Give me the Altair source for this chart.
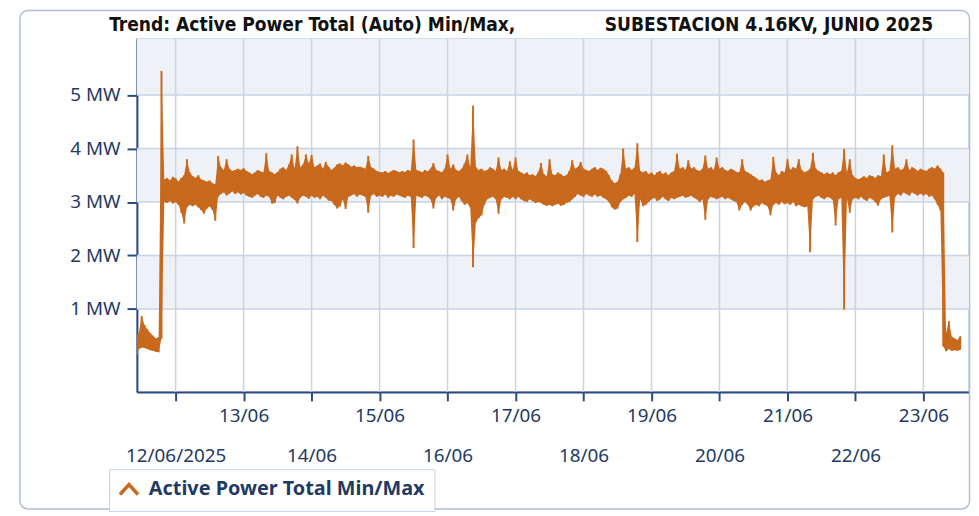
import altair as alt
import pandas as pd

# ---------------- data ----------------
SERIES = "Active Power Total Min/Max"
START = "2025-06-11T10:00:00"          # first hourly sample
X_DOMAIN = ["2025-06-11T10:20:00", "2025-06-23T16:06:00"]
Y_DOMAIN = [-0.55, 6.05]

# hourly maximum (MW)
P_MAX = [
    0.50, 0.55, 0.87, 0.70, 0.62, 0.55, 0.50, 0.45, 0.47, 5.45,
    3.42, 3.45, 3.40, 3.47, 3.44, 3.38, 3.45, 3.50, 3.80, 3.55,
    3.48, 3.45, 3.50, 3.42, 3.40, 3.38, 3.40, 3.35, 3.33, 3.86,
    3.65, 3.60, 3.80, 3.62, 3.58, 3.60, 3.62, 3.60, 3.63, 3.58,
    3.55, 3.52, 3.55, 3.60, 3.57, 3.55, 3.91, 3.58, 3.55, 3.52,
    3.56, 3.62, 3.65, 3.60, 3.70, 3.89, 3.62, 4.04, 3.65, 3.70,
    3.89, 3.72, 3.88, 3.65, 3.68, 3.72, 3.62, 3.75, 3.66, 3.60,
    3.64, 3.70, 3.72, 3.68, 3.74, 3.70, 3.66, 3.68, 3.65, 3.66,
    3.64, 3.62, 3.86, 3.65, 3.62, 3.58, 3.56, 3.55, 3.58, 3.54,
    3.57, 3.60, 3.58, 3.55, 3.58, 3.56, 3.60, 3.58, 4.17, 3.60,
    3.58, 3.55, 3.60, 3.57, 3.62, 3.73, 3.60, 3.58, 3.55, 3.62,
    3.89, 3.62, 3.70, 3.60, 3.58, 3.62, 3.72, 3.89, 3.65, 4.80,
    3.65, 3.60, 3.62, 3.58, 3.60, 3.65, 3.62, 3.58, 3.83, 3.60,
    3.62, 3.58, 3.76, 3.60, 3.83, 3.58, 3.55, 3.52, 3.55, 3.50,
    3.52, 3.48, 3.55, 3.73, 3.52, 3.48, 3.80, 3.52, 3.50, 3.55,
    3.52, 3.48, 3.50, 3.58, 3.78, 3.62, 3.65, 3.75, 3.62, 3.60,
    3.58, 3.62, 3.65, 3.60, 3.64, 3.62, 3.58, 3.50, 3.40, 3.35,
    3.38, 3.52, 4.00, 3.62, 3.65, 3.60, 3.64, 4.10, 3.58, 3.55,
    3.58, 3.52, 3.55, 3.50, 3.55, 3.58, 3.52, 3.55, 3.50, 3.55,
    3.58, 3.90, 3.62, 3.65, 3.60, 3.78, 3.62, 3.65, 3.60, 3.58,
    3.62, 3.87, 3.62, 3.65, 3.60, 3.83, 3.62, 3.65, 3.60, 3.58,
    3.62, 3.60, 3.56, 3.55, 3.80, 3.58, 3.55, 3.52, 3.48, 3.45,
    3.40, 3.42, 3.38, 3.40, 3.42, 3.84, 3.55, 3.50, 3.58, 3.55,
    3.80, 3.60, 3.65, 3.62, 3.80, 3.60, 3.55, 3.58, 3.62, 3.92,
    3.62, 3.58, 3.55, 3.52, 3.55, 3.52, 3.55, 3.50, 3.55, 3.58,
    3.99, 3.55, 3.80, 3.50, 3.45, 3.42, 3.45, 3.48, 3.45, 3.50,
    3.48, 3.45, 3.50, 3.48, 3.89, 3.55, 3.58, 4.06, 3.62, 3.65,
    3.60, 3.62, 3.80, 3.60, 3.65, 3.62, 3.58, 3.62, 3.60, 3.58,
    3.62, 3.65, 3.62, 3.68, 3.62, 3.55, 0.55, 0.77, 0.48, 0.45,
    0.42, 0.49,
]

# hourly minimum (MW)
P_MIN = [
    0.02, 0.25, 0.28, 0.27, 0.25, 0.23, 0.22, 0.20, 0.19, 0.45,
    3.00, 2.98, 3.02, 2.97, 3.00, 2.95, 2.80, 2.60, 2.90, 2.95,
    2.92, 2.95, 2.90, 2.85, 2.78, 2.88, 2.92, 2.85, 2.65, 3.10,
    3.15, 3.18, 3.12, 3.16, 3.20, 3.15, 3.18, 3.14, 3.17, 3.12,
    3.10, 3.08, 3.12, 3.15, 3.10, 3.08, 3.12, 3.10, 2.97, 2.98,
    3.12, 3.08, 3.05, 3.10, 3.12, 3.08, 3.04, 2.97, 3.08, 3.12,
    3.10, 3.06, 3.12, 3.08, 3.10, 3.05, 3.12, 3.08, 3.03, 3.02,
    2.95, 2.88, 2.92, 3.05, 2.87, 3.10, 3.12, 3.15, 3.10, 3.14,
    3.12, 3.10, 2.80, 3.12, 3.15, 3.10, 3.12, 3.10, 3.14, 3.08,
    3.12, 3.10, 3.14, 3.12, 3.10, 3.08, 3.12, 3.10, 2.14, 3.12,
    3.10, 3.08, 3.12, 3.10, 3.05, 2.88, 3.08, 3.12, 3.05, 3.10,
    3.08, 3.05, 2.84, 3.05, 3.10, 3.02, 2.95, 2.98, 2.90, 1.78,
    2.62, 2.70, 2.75, 2.95, 3.05, 3.08, 3.10, 3.05, 2.78, 3.05,
    3.10, 3.08, 3.05, 3.10, 3.05, 3.10, 3.05, 3.02, 3.00, 3.05,
    3.02, 2.98, 3.00, 2.98, 2.95, 2.93, 2.95, 2.92, 2.95, 2.97,
    2.93, 2.95, 2.98, 3.00, 3.05, 3.10, 3.15, 3.12, 3.10, 3.15,
    3.12, 3.10, 3.14, 3.10, 3.12, 3.08, 3.05, 3.00, 2.90, 2.86,
    2.88, 3.00, 3.05, 3.08, 3.12, 3.10, 3.15, 2.25, 3.05, 2.92,
    2.95, 3.00, 3.05, 3.08, 3.02, 3.05, 3.10, 3.05, 3.02, 3.08,
    3.05, 3.08, 3.10, 3.12, 3.08, 3.10, 3.12, 3.08, 3.05, 3.00,
    3.05, 2.67, 3.05, 3.10, 3.08, 3.05, 3.08, 3.10, 3.05, 3.08,
    3.05, 3.02, 3.00, 2.84, 2.95, 3.00, 2.95, 2.84, 2.92, 2.95,
    2.92, 2.98, 2.95, 2.92, 2.75, 2.95, 2.98, 2.95, 3.00, 2.96,
    2.98, 2.95, 3.00, 2.92, 2.95, 2.92, 2.90, 2.92, 2.06, 3.05,
    3.10, 3.12, 3.08, 3.05, 3.10, 3.08, 3.04, 2.56, 3.05, 3.08,
    0.99, 3.05, 2.80, 3.05, 3.08, 3.05, 3.10, 3.05, 3.02, 3.08,
    3.05, 3.00, 2.93, 3.05, 3.08, 3.10, 3.12, 2.43, 3.10, 3.15,
    3.12, 3.18, 3.15, 3.12, 3.18, 3.15, 3.12, 3.16, 3.12, 3.15,
    3.10, 3.12, 3.05, 2.95, 2.84, 0.30, 0.21, 0.25, 0.22, 0.23,
    0.22, 0.24,
]

TICK_DAYS = list(range(12, 24))          # 12/06 ... 23/06
Y_TICKS = [1, 2, 3, 4, 5]
BAND_LO = [1, 3, 5]
BAND_HI = [2, 4, 6.05]

TITLE = ("Trend: Active Power Total (Auto) Min/Max,"
         + "\u00a0" * 15 + "SUBESTACION 4.16KV, JUNIO 2025")

# ---------------- styles ----------------
W, H = 839, 356
ORANGE = "#C8691D"
BAND = "#EEF1F6"
GRID = "#C9D3E3"
AXIS = "#2B4A80"
LABEL = "#1F3A63"
FRAME = "#AEBFD6"
FONT = "Noto Sans"

times = pd.date_range(START, periods=len(P_MAX), freq="h")
df = pd.DataFrame({
    "t": times.strftime("%Y-%m-%dT%H:%M:%S"),
    "pmin": P_MIN,
    "pmax": P_MAX,
    "series": SERIES,
})
days_df = pd.DataFrame({"t": [f"2025-06-{d:02d}T00:00:00" for d in TICK_DAYS]})
yt_df = pd.DataFrame({"pmin": Y_TICKS})
band_df = pd.DataFrame({"pmin": BAND_LO, "pmax": BAND_HI})

xs = alt.Scale(domain=X_DOMAIN)
ys = alt.Scale(domain=Y_DOMAIN, nice=False, zero=False)

x_axis = alt.Axis(
    title=None,
    values=[alt.DateTime(year=2025, month=6, date=d) for d in TICK_DAYS],
    labelExpr=("date(datum.value) == 12 ? ['', timeFormat(datum.value, '%d/%m/%Y')] : "
               "(date(datum.value) % 2 == 1 ? timeFormat(datum.value, '%d/%m') : "
               "['', timeFormat(datum.value, '%d/%m')])"),
    labelOverlap=False, labelFlush=False,
    labelFont=FONT, labelFontSize=19, labelColor=LABEL, labelPadding=6,
    labelLineHeight=40,
    domainColor=AXIS, domainWidth=2, tickColor=AXIS, tickWidth=2, tickSize=9,
    grid=False,
)
y_axis = alt.Axis(
    title=None, values=Y_TICKS, labelExpr="datum.value + ' MW'",
    labelFont=FONT, labelFontSize=19, labelColor=LABEL, labelPadding=7,
    domainColor=AXIS, domainWidth=2, tickColor=AXIS, tickWidth=2, tickSize=10,
    grid=False,
)

frame = alt.Chart(alt.Data(values=[{"a": 1}])).mark_rect(
    filled=False, stroke=FRAME, strokeWidth=1.5, cornerRadius=8, clip=False
).encode(
    x=alt.value(-118), x2=alt.value(W + 0.5),
    y=alt.value(-28.5), y2=alt.value(H + 118),
)

bands = alt.Chart(band_df).mark_rect(color=BAND).encode(
    x=alt.value(0), x2=alt.value(W),
    y=alt.Y("pmin:Q", scale=ys, axis=y_axis),
    y2="pmax:Q",
)

vgrid = alt.Chart(days_df).mark_rule(color=GRID, strokeWidth=1.5).encode(
    x=alt.X("t:T", scale=xs, axis=x_axis),
)
hgrid = alt.Chart(yt_df).mark_rule(color=GRID, strokeWidth=1.5).encode(
    y=alt.Y("pmin:Q", scale=ys, axis=y_axis),
)

legend = alt.Legend(
    title=None, orient="none", legendX=-28, legendY=434,
    fillColor="white", strokeColor="#C5D0E0", padding=9,
    labelFont=FONT, labelFontSize=20, labelFontWeight="bold",
    labelColor=LABEL, labelOffset=9, labelLimit=400,
    symbolType="M-1,0.6L0,-0.5L1,0.6", symbolSize=330,
    symbolStrokeWidth=3.5,
)

band_area = alt.Chart(df).mark_area(clip=True, interpolate="linear", color=ORANGE).encode(
    x=alt.X("t:T", scale=xs, axis=x_axis),
    y=alt.Y("pmin:Q", scale=ys, axis=y_axis),
    y2="pmax:Q",
)
band_rules = alt.Chart(df).mark_rule(strokeWidth=2, clip=True).encode(
    x=alt.X("t:T", scale=xs, axis=x_axis),
    y=alt.Y("pmin:Q", scale=ys, axis=y_axis),
    y2="pmax:Q",
    color=alt.Color("series:N", scale=alt.Scale(range=[ORANGE]), legend=legend),
)

chart = alt.layer(frame, bands, vgrid, hgrid, band_area, band_rules).properties(
    width=W, height=H,
    autosize="none",
    padding={"left": 130, "top": 29, "right": 2, "bottom": 120},
    title=alt.TitleParams(
        TITLE, anchor="start", frame="group", dx=-28, dy=47, offset=6,
        baseline="alphabetic",
        font="DejaVu Sans Condensed", fontSize=19.2, fontWeight="bold", color="#111111",
    ),
).configure_view(stroke=GRID, strokeWidth=1.5)

chart.save("out.html", embed_options={"renderer": "svg", "actions": False})
